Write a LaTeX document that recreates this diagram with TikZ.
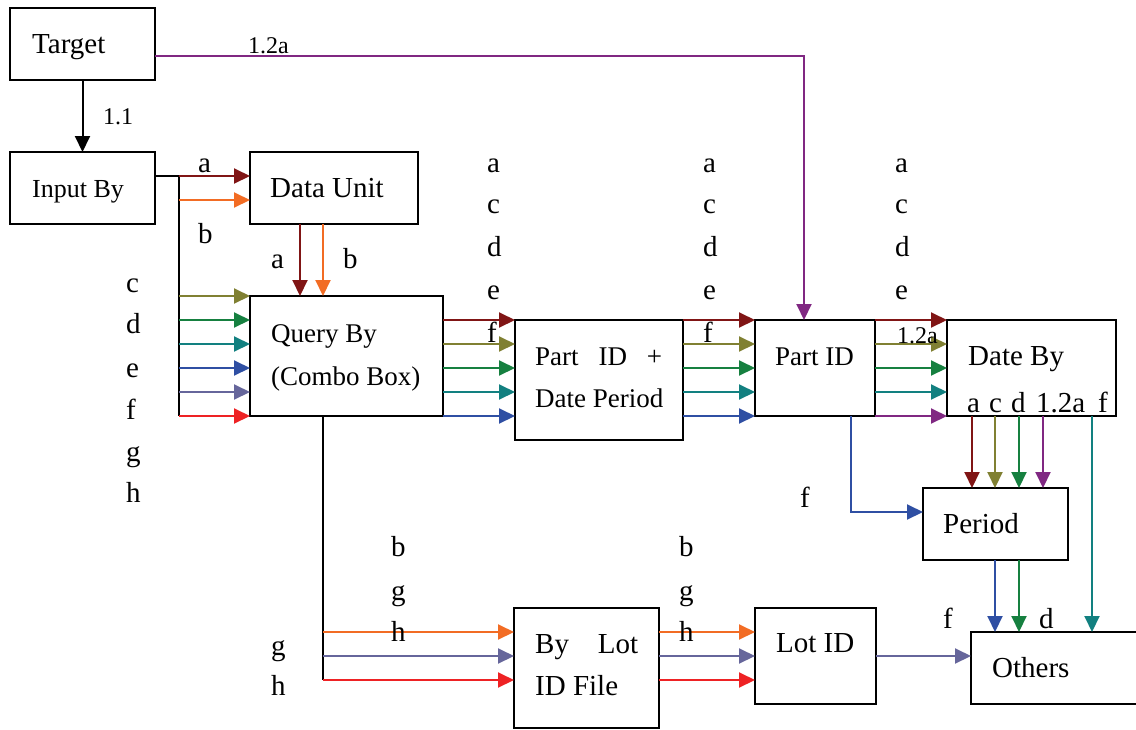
\documentclass[tikz,border=0pt]{standalone}
\usepackage{fontspec}
\setmainfont{Liberation Serif}
\usetikzlibrary{arrows.meta}
\definecolor{dred}{RGB}{128,21,21}
\definecolor{orng}{RGB}{242,108,36}
\definecolor{olv}{RGB}{128,128,50}
\definecolor{grn}{RGB}{22,128,64}
\definecolor{tel}{RGB}{18,128,128}
\definecolor{blu}{RGB}{47,79,163}
\definecolor{slt}{RGB}{102,102,155}
\definecolor{rd}{RGB}{238,34,36}
\definecolor{purp}{RGB}{128,40,130}
\tikzset{
  box/.style={draw, line width=2pt, rectangle, inner sep=0pt, outer sep=0pt, anchor=north west},
  lbl/.style={anchor=base west, inner sep=0pt, font=\fontsize{29}{32}\selectfont},
  sml/.style={anchor=base west, inner sep=0pt, font=\fontsize{24}{27}\selectfont},
  bt/.style={anchor=base west, inner sep=0pt, font=\fontsize{27}{30}\selectfont},
  btl/.style={anchor=base west, inner sep=0pt, font=\fontsize{29}{32}\selectfont},
  con/.style={line width=2pt, -{Triangle[length=16pt,width=15pt]}},
  wire/.style={line width=2pt}
}
\begin{document}
\begin{tikzpicture}[x=1pt,y=-1pt]
\useasboundingbox (0,0) rectangle (1136,729);
% boxes
\node[box, minimum width=145pt, minimum height=72pt] (target) at (10,8) {};
\node[box, minimum width=145pt, minimum height=72pt] (input) at (10,152) {};
\node[box, minimum width=168pt, minimum height=72pt] (du) at (250,152) {};
\node[box, minimum width=193pt, minimum height=120pt] (qb) at (250,296) {};
\node[box, minimum width=168pt, minimum height=120pt] (pd) at (515,320) {};
\node[box, minimum width=120pt, minimum height=96pt] (pid) at (755,320) {};
\node[box, minimum width=169pt, minimum height=96pt] (db) at (947,320) {};
\node[box, minimum width=145pt, minimum height=72pt] (per) at (923,488) {};
\node[box, minimum width=190pt, minimum height=72pt] (oth) at (971,632) {};
\node[box, minimum width=121pt, minimum height=96pt] (lot) at (755,608) {};
\node[box, minimum width=145pt, minimum height=120pt] (blf) at (514,608) {};
% box texts
\node[btl] (targetT) at (32,53) {Target};
\node[bt, font=\fontsize{26}{29}\selectfont] (inputT) at (32,197) {Input By};
\node[btl] (duT) at (270,197) {Data Unit};
\node[bt] (qbT1) at (271,342) {Query By};
\node[bt] (qbT2) at (271,385) {(Combo Box)};
\node[bt] (pdT1) at (535,365) {\makebox[127pt][s]{Part ID +}};
\node[bt] (pdT2) at (535,407) {Date Period};
\node[bt] (pidT) at (775,365) {Part ID};
\node[btl] (dbT) at (968,365) {Date By};
\node[btl] (perT) at (943,533) {Period};
\node[btl] (othT) at (992,677) {Others};
\node[btl] (lotT) at (776,652) {Lot ID};
\node[btl] (blfT1) at (535,653) {\makebox[103pt][s]{By Lot}};
\node[btl] (blfT2) at (535,695) {ID File};
% Date By inner labels
\node[lbl] (dba) at (967,412) {a};
\node[lbl] (dbc) at (989,412) {c};
\node[lbl] (dbd) at (1011,412) {d};
\node[lbl] (dbx) at (1036,412) {1.2a};
\node[lbl] (dbf) at (1098,412) {f};
% connectors
\draw[con, black] (target) -- (input);
\draw[con, purp] (target.east |- 0,56) -| (804,0 |- pid.north);
\coordinate (bt) at (179,176);
\coordinate (bb) at (179,416);
\draw[wire] (input.east |- bt) -- (bt) -- (bb);
\draw[con, dred] (bt) -- (du.west |- bt);
\draw[con, orng] (bt |- 0,200) -- (du.west |- 0,200);
\foreach \y/\c in {296/olv,320/grn,344/tel,368/blu,392/slt,416/rd}
  \draw[con,\c] (bt |- 0,\y) -- (qb.west |- 0,\y);
\draw[con,dred] (300,0 |- du.south) -- (300,0 |- qb.north);
\draw[con,orng] (323,0 |- du.south) -- (323,0 |- qb.north);
\foreach \y/\c in {320/dred,344/olv,368/grn,392/tel,416/blu}{
  \draw[con,\c] (qb.east |- 0,\y) -- (pd.west |- 0,\y);
  \draw[con,\c] (pd.east |- 0,\y) -- (pid.west |- 0,\y);
}
\foreach \y/\c in {320/dred,344/olv,368/grn,392/tel,416/purp}
  \draw[con,\c] (pid.east |- 0,\y) -- (db.west |- 0,\y);
\foreach \x/\c in {972/dred,995/olv,1019/grn,1043/purp}
  \draw[con,\c] (\x,0 |- db.south) -- (\x,0 |- per.north);
\draw[con,tel] (1092,0 |- db.south) -- (1092,0 |- oth.north);
\draw[con,blu] (851,0 |- pid.south) |- (per.west |- 0,512);
\draw[con,blu] (995,0 |- per.south) -- (995,0 |- oth.north);
\draw[con,grn] (1019,0 |- per.south) -- (1019,0 |- oth.north);
\draw[con,slt] (lot.east |- 0,656) -- (oth.west |- 0,656);
\coordinate (qd) at (323,680);
\draw[wire] (323,0 |- qb.south) -- (qd);
\foreach \y/\c in {632/orng,656/slt,680/rd}{
  \draw[con,\c] (qd |- 0,\y) -- (blf.west |- 0,\y);
  \draw[con,\c] (blf.east |- 0,\y) -- (lot.west |- 0,\y);
}
% labels
\node[sml] (l11) at (103,124) {1.1};
\node[sml] (l12a) at (248,53) {1.2a};
\node[lbl] (la1) at (198,172) {a};
\node[lbl] (lb1) at (198,243) {b};
\node[lbl] (la2) at (271,268) {a};
\node[lbl] (lb2) at (343,268) {b};
\foreach \t/\y [count=\i] in {c/292,d/333,e/377,f/419,g/461,h/502}
  \node[lbl] (lc\i) at (126,\y) {\t};
\foreach \t/\y [count=\i] in {a/172,c/213,d/256,e/299,f/342}{
  \node[lbl] (lp\i) at (487,\y) {\t};
  \node[lbl] (lq\i) at (703,\y) {\t};
}
\foreach \t/\y [count=\i] in {a/172,c/213,d/256,e/299}
  \node[lbl] (lr\i) at (895,\y) {\t};
\node[sml] (l12b) at (897,343) {1.2a};
\node[lbl] (lf1) at (800,507) {f};
\node[lbl] (lf2) at (943,628) {f};
\node[lbl] (ld2) at (1039,628) {d};
\foreach \t/\y [count=\i] in {b/556,g/600,h/641}{
  \node[lbl] (ls\i) at (391,\y) {\t};
  \node[lbl] (lt\i) at (679,\y) {\t};
}
\node[lbl] (lg3) at (271,655) {g};
\node[lbl] (lh3) at (271,695) {h};
\end{tikzpicture}
\end{document}
